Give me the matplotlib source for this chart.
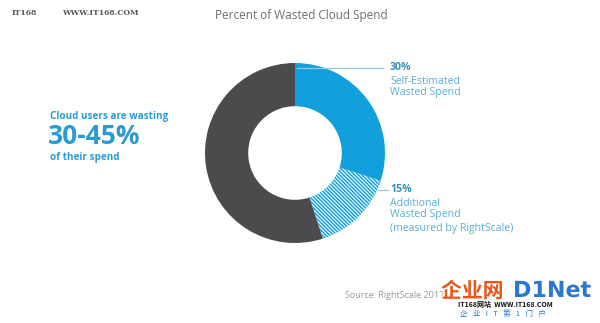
import matplotlib.pyplot as plt
import matplotlib.patheffects as pe

# wasted-spend breakdown, share of total cloud spend (%)
segments = ["Self-Estimated Wasted Spend", "Additional Wasted Spend", "Rest of spend"]
shares = [30, 15, 55]
seg_colors = ["#11a0dc", "#11a0dc", "#4b4b4d"]
seg_hatch = [None, "\\" * 9, None]

W, H = 600, 323


def px(x, y):
    return x / W, 1 - y / H


plt.rcParams["font.family"] = ["Open Sans", "DejaVu Sans"]
plt.rcParams["hatch.linewidth"] = 0.8

fig = plt.figure(figsize=(W / 100, H / 100), dpi=100)
fig.patch.set_facecolor("white")

# donut
ax = fig.add_axes([205 / W, 80 / H, 180 / W, 180 / H])
wedges, _ = ax.pie(shares, colors=seg_colors, startangle=90, counterclock=False,
                   wedgeprops=dict(width=0.48, linewidth=0))
for w, h in zip(wedges, seg_hatch):
    if h:
        w.set_hatch(h)
        w.set_edgecolor("white")
        w.set_linewidth(0)
ax.set_xlim(-1, 1)
ax.set_ylim(-1, 1)
ax.set_aspect("equal")
ax.axis("off")

fig.text(*px(301, 16), "Percent of Wasted Cloud Spend", ha="center", va="center",
         fontsize=8.5, color="#6d6d6d")

# left callout
blue_txt = "#2b9bd0"
fig.text(*px(50, 117), "Cloud users are wasting", ha="left", va="center",
         fontsize=7.1, fontweight="bold", color=blue_txt)
fig.text(*px(48, 137), "30-45%", ha="left", va="center",
         fontsize=19, fontweight="bold", color=blue_txt)
fig.text(*px(50, 157), "of their spend", ha="left", va="center",
         fontsize=7.1, fontweight="bold", color=blue_txt)

# right labels with leader lines
lab_col = "#5aaed4"
line_col = "#9cc6da"
fs = 7.6
fig.add_artist(plt.Line2D([297 / W, 383 / W], [1 - 68 / H, 1 - 68 / H],
                          color=line_col, lw=0.9))
fig.add_artist(plt.Line2D([378 / W, 388 / W], [1 - 190 / H, 1 - 190 / H],
                          color=line_col, lw=0.9))

fig.text(*px(390, 68), f"{shares[0]}%", ha="left", va="center",
         fontsize=fs, fontweight="bold", color="#3a8fb8")
fig.text(*px(390, 81), "Self-Estimated", ha="left", va="center",
         fontsize=fs, color=lab_col)
fig.text(*px(390, 93), "Wasted Spend", ha="left", va="center",
         fontsize=fs, color=lab_col)

fig.text(*px(390, 190), f"{shares[1]}%", ha="left", va="center",
         fontsize=fs, fontweight="bold", color="#3a8fb8")
fig.text(*px(390, 203), "Additional", ha="left", va="center",
         fontsize=fs, color=lab_col)
fig.text(*px(390, 215), "Wasted Spend", ha="left", va="center",
         fontsize=fs, color=lab_col)
fig.text(*px(390, 228), "(measured by RightScale)", ha="left", va="center",
         fontsize=fs, color=lab_col)

fig.text(*px(345, 296), "Source: RightScale 2017", ha="left", va="center",
         fontsize=6.5, color="#9a9a9a")

# site marks
fig.text(*px(12, 13), "IT168", ha="left", va="center", fontsize=5.5,
         fontweight="bold", color="#555555", family="DejaVu Serif")
fig.text(*px(62, 13), "WWW.IT168.COM", ha="left", va="center", fontsize=5.5,
         fontweight="bold", color="#555555", family="DejaVu Serif")

stroke = [pe.withStroke(linewidth=2, foreground="white")]
fig.text(*px(441, 291), "企业网", ha="left", va="center", fontsize=15,
         fontweight="bold", color="#e8561c", family=["Noto Sans CJK SC"],
         path_effects=stroke)
fig.text(*px(513, 291), "D1Net", ha="left", va="center", fontsize=16,
         fontweight="bold", color="#2a78d2", family="DejaVu Sans",
         path_effects=stroke)
fig.text(*px(458, 305), "IT168网站  WWW.IT168.COM", ha="left", va="center",
         fontsize=5, fontweight="bold", color="#111111",
         family=["Noto Sans CJK SC", "DejaVu Sans"])
fig.text(*px(460, 315), "企   业   I   T   第   1   门   户", ha="left", va="center",
         fontsize=5.5, color="#2a78d2", family=["Noto Sans CJK SC", "DejaVu Sans"])

fig.savefig("out.png", dpi=100)
